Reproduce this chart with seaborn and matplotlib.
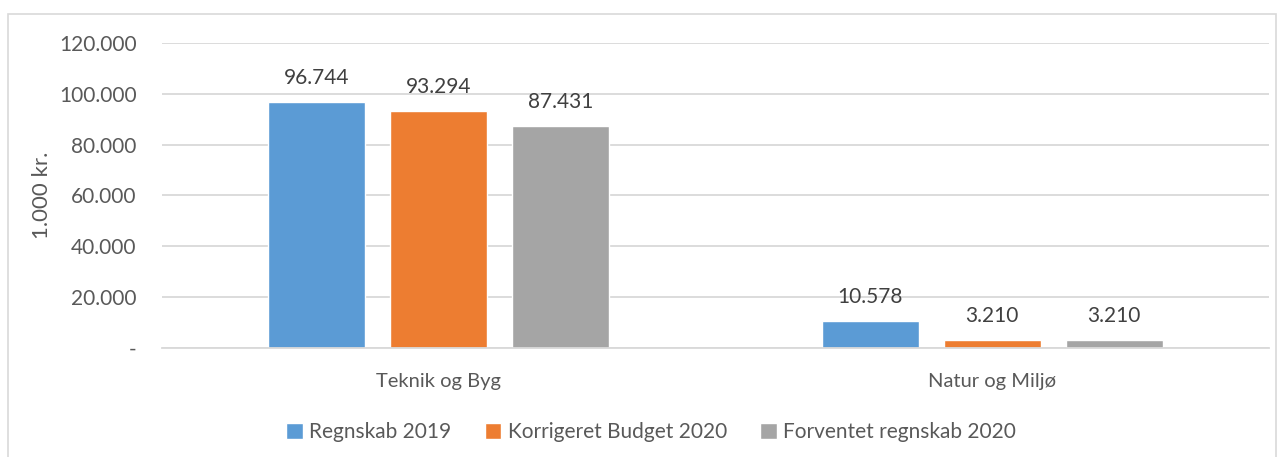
import seaborn as sns
import matplotlib.pyplot as plt
import matplotlib.ticker as mticker
import pandas as pd
from matplotlib.patches import Rectangle

categories = ["Teknik og Byg", "Natur og Miljø"]
series = ["Regnskab 2019", "Korrigeret Budget 2020", "Forventet regnskab 2020"]
regnskab_2019 = [96744, 10578]
budget_2020 = [93294, 3210]
forventet_2020 = [87431, 3210]
colors = ["#5B9BD5", "#ED7D31", "#A5A5A5"]

df = pd.DataFrame({
    "Område": categories * 3,
    "Serie": [series[0]] * 2 + [series[1]] * 2 + [series[2]] * 2,
    "Beløb": regnskab_2019 + budget_2020 + forventet_2020,
})

sns.set_style("white")
plt.rcParams['font.family'] = ['Lato', 'DejaVu Sans']

fig = plt.figure(figsize=(12.82, 4.57), dpi=100)
ax = fig.add_axes([0.126, 0.2385, 0.864, 0.6675])

sns.barplot(data=df, x="Område", y="Beløb", hue="Serie", palette=colors,
            saturation=1, width=0.66, gap=0.205, ax=ax, legend=True)

ax.set_ylim(0, 120000)
ax.set_yticks(range(0, 120001, 20000))

def fmt(v, pos):
    if v == 0:
        return "-"
    return f"{int(v):,}".replace(",", ".")

ax.yaxis.set_major_formatter(mticker.FuncFormatter(fmt))
ax.grid(axis="y", color="#D9D9D9", linewidth=1.3)
ax.set_axisbelow(True)
for s in ["left", "right", "top"]:
    ax.spines[s].set_visible(False)
ax.spines["bottom"].set_color("#D9D9D9")
ax.spines["bottom"].set_linewidth(1.3)
ax.tick_params(axis="y", length=0, labelsize=15, colors="#595959", pad=18)
ax.tick_params(axis="x", length=0, labelsize=14.5, colors="#595959", pad=18)
ax.set_xlabel("")
ax.set_ylabel("1.000 kr.", fontsize=16, color="#595959", labelpad=5)

for cont in ax.containers:
    ax.bar_label(cont, labels=[fmt(v, None) for v in cont.datavalues],
                 padding=10, fontsize=15, color="#404040")

handles, labels = ax.get_legend_handles_labels()
ax.legend(handles, labels, loc="center", bbox_to_anchor=(0.442, -0.275), ncol=3,
          frameon=False, fontsize=15, labelcolor="#595959",
          handlelength=0.8, handleheight=0.8, handletextpad=0.3, columnspacing=1.6)

fig.patches.append(Rectangle((8 / 1282, -0.02), 1268 / 1282, 1 - 14 / 457 + 0.02,
                             transform=fig.transFigure, fill=False,
                             edgecolor="#D9D9D9", linewidth=1.2))

fig.savefig("out.png", dpi=100)
